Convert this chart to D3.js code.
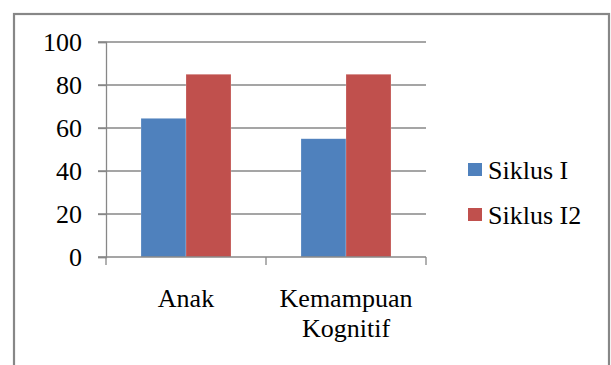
<!DOCTYPE html>
<html>
<head>
<meta charset="utf-8">
<script src="https://cdn.jsdelivr.net/npm/d3@7"></script>
</head>
<body style="margin:0">
<svg id="chart" width="611" height="365"></svg>
<script>
// ---- data ----
const categories = ["Anak", "Kemampuan Kognitif"];
const seriesNames = ["Siklus I", "Siklus I2"];
const siklus1 = [64.5, 55];
const siklus2 = [85, 85];
const yTicks = [0, 20, 40, 60, 80, 100];
const seriesColors = ["#4F81BD", "#C0504D"];

const seriesValues = [siklus1, siklus2];

const FONT = "'Liberation Serif'";
const fontSize = 26;
const svg = d3.select("#chart");

// outer frame
svg.append("rect")
  .attr("x", 14).attr("y", 14)
  .attr("width", 595).attr("height", 380)
  .attr("fill", "none")
  .attr("stroke", "#878787")
  .attr("stroke-width", 2.2);

// scales
const plotLeft = 106, plotRight = 426, plotTop = 42, plotBottom = 257;
const y = d3.scaleLinear().domain([0, 100]).range([plotBottom, plotTop]);
const x0 = d3.scaleBand().domain(categories).range([plotLeft, plotRight]).padding(0);
const x1 = d3.scaleBand().domain(seriesNames).range([0, x0.bandwidth()])
  .paddingInner(0).paddingOuter(0.778);

// gridlines
svg.append("g")
  .selectAll("line")
  .data(yTicks.filter(d => d > 0))
  .join("line")
  .attr("x1", plotLeft - 8).attr("x2", plotRight)
  .attr("y1", d => y(d)).attr("y2", d => y(d))
  .attr("stroke", "#878787").attr("stroke-width", 1.3);

// y axis
const yAxis = svg.append("g")
  .attr("transform", `translate(${plotLeft},0)`)
  .call(d3.axisLeft(y).tickValues(yTicks).tickSize(8).tickPadding(16).tickFormat(d3.format("d")));
yAxis.attr("font-family", null).attr("font-size", null);
yAxis.select(".domain").attr("stroke", "#878787").attr("stroke-width", 1.3);
yAxis.selectAll(".tick line").attr("stroke", "#878787").attr("stroke-width", 1.3);
yAxis.selectAll(".tick text")
  .style("font-family", FONT)
  .attr("font-size", fontSize)
  .attr("fill", "#000")
  .attr("dy", "0.34em");

// bars
const groups = svg.append("g")
  .selectAll("g")
  .data(categories)
  .join("g")
  .attr("transform", c => `translate(${x0(c)},0)`);

groups.selectAll("rect")
  .data((c, i) => seriesNames.map((s, j) => ({ s, j, v: seriesValues[j][i] })))
  .join("rect")
  .attr("x", d => x1(d.s))
  .attr("width", x1.bandwidth())
  .attr("y", d => y(d.v))
  .attr("height", d => y(0) - y(d.v))
  .attr("fill", d => seriesColors[d.j])
  .attr("stroke", "rgba(255,255,255,0.35)")
  .attr("stroke-width", 0.6);

// x axis
const xAxis = svg.append("g")
  .attr("transform", `translate(0,${plotBottom})`);
xAxis.append("line")
  .attr("x1", plotLeft - 8).attr("x2", plotRight)
  .attr("y1", 0).attr("y2", 0)
  .attr("stroke", "#878787").attr("stroke-width", 1.3);
const boundaries = categories.map(c => x0(c)).concat([x0(categories[categories.length - 1]) + x0.bandwidth()]);
xAxis.selectAll("line.tk")
  .data(boundaries)
  .join("line")
  .attr("class", "tk")
  .attr("x1", d => d).attr("x2", d => d)
  .attr("y1", 0).attr("y2", 8)
  .attr("stroke", "#878787").attr("stroke-width", 1.3);

// category labels
const labels = svg.append("g")
  .selectAll("text")
  .data(categories)
  .join("text")
  .attr("text-anchor", "middle")
  .style("font-family", FONT)
  .attr("font-size", fontSize)
  .attr("fill", "#000")
  .attr("x", c => x0(c) + x0.bandwidth() / 2)
  .attr("y", 307);
labels.selectAll("tspan")
  .data(c => c.split(" ").map((w, i) => ({ w, i, c })))
  .join("tspan")
  .attr("x", d => x0(d.c) + x0.bandwidth() / 2)
  .attr("dy", d => d.i === 0 ? 0 : 30)
  .text(d => d.w);

// legend
const legend = svg.append("g")
  .selectAll("g")
  .data(seriesNames)
  .join("g")
  .attr("transform", (d, i) => `translate(468,${163 + i * 45})`);
legend.append("rect")
  .attr("width", 14).attr("height", 13)
  .attr("fill", (d, i) => seriesColors[i]);
legend.append("text")
  .attr("x", 20).attr("y", 16)
  .style("font-family", FONT)
  .attr("font-size", fontSize)
  .attr("fill", "#000")
  .text(d => d);
</script>
</body>
</html>
